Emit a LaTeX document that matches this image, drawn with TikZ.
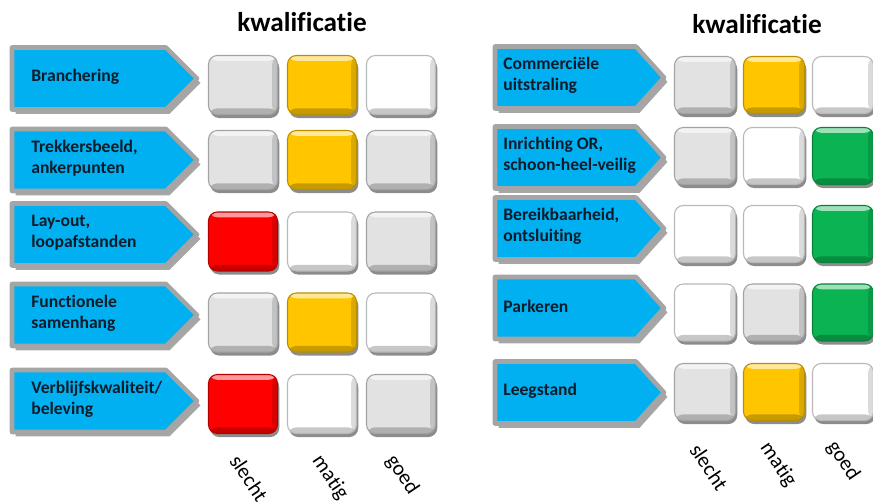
\documentclass[tikz,border=0pt]{standalone}
\usepackage{fontspec}
\setmainfont{Carlito}[Ligatures=NoCommon]
\usetikzlibrary{shadows}
\definecolor{tagblue}{HTML}{00B0F0}
\definecolor{tagrim}{HTML}{A5A5A5}
\definecolor{ink}{HTML}{0D1B2A}
\definecolor{gry}{HTML}{E2E2E2}
\definecolor{wht}{HTML}{FFFFFF}
\definecolor{ylw}{HTML}{FFC600}
\definecolor{rd}{HTML}{FF0000}
\definecolor{grn}{HTML}{0BB452}
\begin{document}
\begin{tikzpicture}[x=0.02cm,y=-0.02cm,line join=round,
    tag/.style={fill=tagblue,draw=tagrim,line width=2.6pt,
        drop shadow={shadow xshift=2pt,shadow yshift=-2.5pt,opacity=.35,fill=black}},
    lbl/.style={anchor=west,align=left,text=ink,inner sep=0pt,
        font=\fontsize{10}{12}\selectfont\bfseries},
    cell/.style={rounded corners=5pt,draw=#1!72!black,line width=.6pt,fill=#1,inner sep=0pt,
        drop shadow={shadow xshift=1pt,shadow yshift=-2pt,opacity=.45,fill=black},
        path picture={
            \fill[white,opacity=.6] (path picture bounding box.north west) rectangle ([yshift=-3pt]path picture bounding box.north east);
            \fill[black,opacity=.22] ([yshift=3.5pt]path picture bounding box.south west) rectangle (path picture bounding box.south east);
            \fill[black,opacity=.14] ([xshift=-3pt]path picture bounding box.north east) rectangle (path picture bounding box.south east);}},
    lcell/.style={cell=#1,minimum width=1.38cm,minimum height=1.18cm},
    rcell/.style={cell=#1,minimum width=1.22cm,minimum height=1.14cm},
    title/.style={font=\fontsize{15.5}{18}\selectfont\bfseries},
    grade/.style={rotate=-56,inner sep=0pt,font=\fontsize{12}{14}\selectfont}]
    \clip (0,0) rectangle (873,504);
    % titles
    \node[title] (kl) at (302,22) {kwalificatie};
    \node[title] (kr) at (757,24) {kwalificatie};
    % left column
    \foreach \n/\yc/\txt in {1/78.5/Branchering, 2/160/{Trekkersbeeld,\\ankerpunten},
        3/234.5/{Lay-out,\\loopafstanden}, 4/315/{Functionele\\samenhang},
        5/401/{Verblijfskwaliteit/\\beleving}}{
        \draw[tag] (12,\yc-31)--(166,\yc-31)--(197,\yc)--(166,\yc+31)--(12,\yc+31)--cycle;
        \node[lbl] (tl\n) at (31,\yc-2) {\txt};
    }
    \foreach \n/\yc/\ca/\cb/\cc in {1/85/gry/ylw/wht, 2/160/gry/ylw/gry, 3/241.5/rd/wht/gry,
        4/322.5/gry/ylw/wht, 5/404/rd/wht/gry}{
        \node[lcell=\ca] (l\n-a) at (243,\yc) {};
        \node[lcell=\cb] (l\n-b) at (322,\yc) {};
        \node[lcell=\cc] (l\n-c) at (401,\yc) {};
    }
    % right column
    \foreach \n/\yc/\txt in {1/77.5/{Commerciële\\uitstraling}, 2/157.5/{Inrichting OR,\\schoon-heel-veilig},
        3/228.5/{Bereikbaarheid,\\ontsluiting}, 4/308/Parkeren, 5/392.5/Leegstand}{
        \draw[tag] (495,\yc-31)--(636,\yc-31)--(664,\yc)--(636,\yc+31)--(495,\yc+31)--cycle;
        \node[lbl] (tr\n) at (503,\yc-2) {\txt};
    }
    \foreach \n/\yc/\ca/\cb/\cc in {1/85/gry/ylw/wht, 2/156/gry/wht/grn, 3/234/wht/wht/grn,
        4/312.5/wht/gry/grn, 5/392/gry/ylw/wht}{
        \node[rcell=\ca] (r\n-a) at (705,\yc) {};
        \node[rcell=\cb] (r\n-b) at (774,\yc) {};
        \node[rcell=\cc] (r\n-c) at (843,\yc) {};
    }
    % grades
    \node[grade] (sl) at (249,478) {slecht};
    \node[grade] (ml) at (330,478) {matig};
    \node[grade] (gl) at (402,475) {goed};
    \node[grade] (sr) at (709,467) {slecht};
    \node[grade] (mr) at (778,465) {matig};
    \node[grade] (gr) at (843,461) {goed};
\end{tikzpicture}
\end{document}
